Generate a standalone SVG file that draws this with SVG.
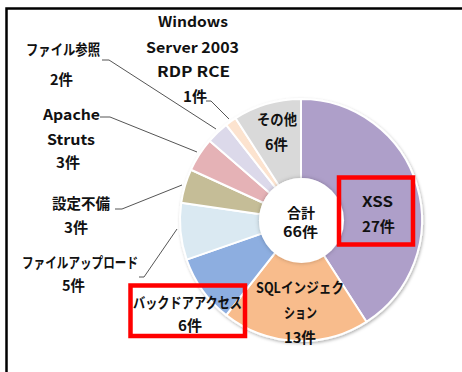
<svg xmlns="http://www.w3.org/2000/svg" width="462" height="372" viewBox="0 0 462 372">
<defs>
<style>
.t{font-family:"Noto Sans CJK JP","Noto Sans",sans-serif;font-weight:bold;font-size:14.5px;fill:#111;text-anchor:middle}
.c{font-size:14px}
.s{stroke:#fff;stroke-width:2;stroke-linejoin:round}
.ld{fill:none;stroke:#555;stroke-width:1}
.rb{fill:none;stroke:#ff0000;stroke-width:4.5}
</style>
<filter id="sh" x="-10%" y="-10%" width="120%" height="120%">
<feDropShadow dx="1" dy="1.5" stdDeviation="1.5" flood-color="#000" flood-opacity="0.3"/>
</filter>
<filter id="hs" x="-20%" y="-20%" width="140%" height="140%">
<feDropShadow dx="0" dy="0" stdDeviation="2" flood-color="#000" flood-opacity="0.25"/>
</filter>
</defs>
<rect width="462" height="372" fill="#fff"/>
<path d="M6.5,372 V8.5 H462" fill="none" stroke="#000" stroke-width="2.5"/>
<g id="donut" filter="url(#sh)">
<g id="xss"><path class="s" fill="#AE9FC9" d="M301,99 A121,121 0 0 1 366.41,321.80 L323.16,254.49 A41,41 0 0 0 301,179 Z"/></g>
<g id="sql"><path class="s" fill="#F8BC8C" d="M366.41,321.80 A121,121 0 0 1 226.20,315.12 L275.65,252.23 A41,41 0 0 0 323.16,254.49 Z"/></g>
<g id="backdoor"><path class="s" fill="#8DAEE0" d="M226.20,315.12 A121,121 0 0 1 186.65,259.58 L262.25,233.41 A41,41 0 0 0 275.65,252.23 Z"/></g>
<g id="upload"><path class="s" fill="#DAE9F2" d="M186.65,259.58 A121,121 0 0 1 181.23,202.78 L260.42,214.17 A41,41 0 0 0 262.25,233.41 Z"/></g>
<g id="config"><path class="s" fill="#C5BD97" d="M181.23,202.78 A121,121 0 0 1 190.94,169.74 L263.71,202.97 A41,41 0 0 0 260.42,214.17 Z"/></g>
<g id="apache"><path class="s" fill="#E5B2B6" d="M190.94,169.74 A121,121 0 0 1 209.56,140.76 L270.02,193.15 A41,41 0 0 0 263.71,202.97 Z"/></g>
<g id="fileref"><path class="s" fill="#DCD9EA" d="M209.56,140.76 A121,121 0 0 1 226.20,124.88 L275.65,187.77 A41,41 0 0 0 270.02,193.15 Z"/></g>
<g id="windows"><path class="s" fill="#FCE3CF" d="M226.20,124.88 A121,121 0 0 1 235.59,118.20 L278.84,185.51 A41,41 0 0 0 275.65,187.77 Z"/></g>
<g id="other"><path class="s" fill="#D9D9D9" d="M235.59,118.20 A121,121 0 0 1 301,99 L301,179 A41,41 0 0 0 278.84,185.51 Z"/></g>
</g>
<g id="hole"><circle cx="301.5" cy="220.5" r="42.5" fill="#fff" filter="url(#hs)"/><circle cx="301.5" cy="220.5" r="40.5" fill="#fff"/></g>
<g id="connectors">
<path class="ld" d="M206,101 H211 L229,119"/>
<path class="ld" d="M102,60 H109 L216,129"/>
<path class="ld" d="M100,117 H110 L197,152"/>
<path class="ld" d="M115,209 H122 L182,185"/>
<path class="ld" d="M139,277 H144 L177,229"/>
</g>
<g id="labels">
<text class="t" x="193" y="27" textLength="70" lengthAdjust="spacingAndGlyphs">Windows</text>
<text class="t" x="192.5" y="53" textLength="93" lengthAdjust="spacingAndGlyphs">Server 2003</text>
<text class="t" x="193.5" y="77" textLength="73" lengthAdjust="spacingAndGlyphs">RDP RCE</text>
<text class="t" x="195" y="102" textLength="24" lengthAdjust="spacingAndGlyphs">1件</text>
<text class="t" x="63" y="55" textLength="74" lengthAdjust="spacingAndGlyphs">ファイル参照</text>
<text class="t" x="61.5" y="85" textLength="23" lengthAdjust="spacingAndGlyphs">2件</text>
<text class="t" x="71.5" y="120" textLength="57" lengthAdjust="spacingAndGlyphs">Apache</text>
<text class="t" x="71" y="145" textLength="48" lengthAdjust="spacingAndGlyphs">Struts</text>
<text class="t" x="68" y="168" textLength="24" lengthAdjust="spacingAndGlyphs">3件</text>
<text class="t" x="81" y="209" textLength="58" lengthAdjust="spacingAndGlyphs">設定不備</text>
<text class="t" x="76" y="233" textLength="24" lengthAdjust="spacingAndGlyphs">3件</text>
<text class="t" x="80" y="268" textLength="116" lengthAdjust="spacingAndGlyphs">ファイルアップロード</text>
<text class="t" x="73.5" y="291" textLength="23" lengthAdjust="spacingAndGlyphs">5件</text>
<text class="t" x="187.5" y="308" textLength="109" lengthAdjust="spacingAndGlyphs">バックドアアクセス</text>
<text class="t" x="190" y="331" textLength="24" lengthAdjust="spacingAndGlyphs">6件</text>
<text class="t" x="300" y="293" textLength="88" lengthAdjust="spacingAndGlyphs">SQLインジェク</text>
<text class="t" x="300.5" y="318" textLength="33" lengthAdjust="spacingAndGlyphs">ション</text>
<text class="t" x="300" y="343" textLength="32" lengthAdjust="spacingAndGlyphs">13件</text>
<text class="t" x="377.5" y="207" textLength="31" lengthAdjust="spacingAndGlyphs">XSS</text>
<text class="t" x="378.5" y="232" textLength="33" lengthAdjust="spacingAndGlyphs">27件</text>
<text class="t c" x="301" y="217.5" textLength="28" lengthAdjust="spacingAndGlyphs">合計</text>
<text class="t c" x="300.5" y="237" textLength="35" lengthAdjust="spacingAndGlyphs">66件</text>
<text class="t" x="277" y="125" textLength="40" lengthAdjust="spacingAndGlyphs">その他</text>
<text class="t" x="276.5" y="150" textLength="23" lengthAdjust="spacingAndGlyphs">6件</text>
</g>
<g id="highlights">
<rect class="rb" x="339" y="177.5" width="74" height="67"/>
<rect class="rb" x="130.5" y="285.5" width="114.5" height="50.5"/>
</g>
</svg>
